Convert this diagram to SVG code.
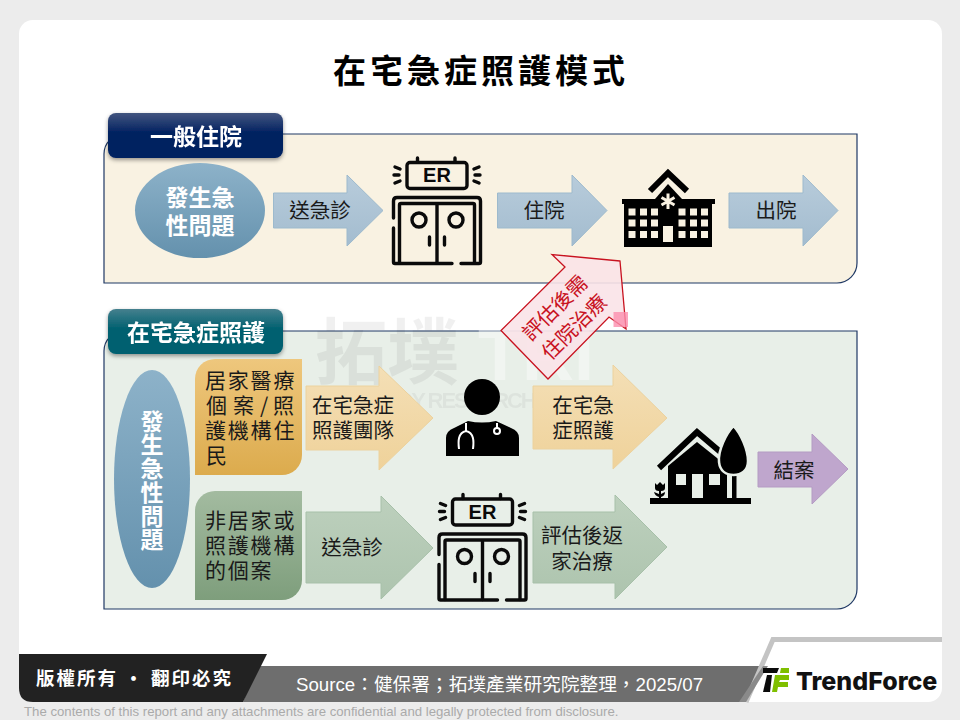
<svg xmlns="http://www.w3.org/2000/svg" width="960" height="720" viewBox="0 0 960 720">
<style>
text{font-family:"Noto Sans CJK TC","Liberation Sans",sans-serif}
.t{font-size:20.5px;fill:#1a1a1a;text-anchor:middle;dominant-baseline:central;transform:translateY(-1.5px)}
.c{font-size:21px;fill:#1a1a1a;letter-spacing:1.8px;dominant-baseline:central;transform:translateY(-1.5px)}
.w{fill:#fff;font-weight:700;text-anchor:middle;dominant-baseline:central;transform:translateY(-1.500px)}
.ic{fill:none;stroke:#0a0a0a;stroke-width:3.4;stroke-linecap:round;stroke-linejoin:round}
.panel{stroke:#1f3864;stroke-width:1.2}
.ab{fill:url(#gBlue);stroke:#9dbacd}
.ao{fill:url(#gOrange);stroke:#ecd29e}
.ag{fill:url(#gGreen);stroke:#a7c0a9}
</style>
<defs>
<linearGradient id="gBlue" x1="0" y1="0" x2="0" y2="1"><stop offset="0" stop-color="#b8ccdb"/><stop offset="1" stop-color="#a3bccf"/></linearGradient>
<linearGradient id="gOrange" x1="0" y1="0" x2="0" y2="1"><stop offset="0" stop-color="#f4dfb6"/><stop offset="1" stop-color="#efd29a"/></linearGradient>
<linearGradient id="gGreen" x1="0" y1="0" x2="0" y2="1"><stop offset="0" stop-color="#bdd0bd"/><stop offset="1" stop-color="#adc4ae"/></linearGradient>
<linearGradient id="gEll" x1="0" y1="0" x2="0" y2="1"><stop offset="0" stop-color="#8db2c9"/><stop offset="1" stop-color="#6491ad"/></linearGradient>
<linearGradient id="gCO" x1="0" y1="0" x2="0" y2="1"><stop offset="0" stop-color="#eec77d"/><stop offset="1" stop-color="#dcab4d"/></linearGradient>
<linearGradient id="gCG" x1="0" y1="0" x2="0" y2="1"><stop offset="0" stop-color="#a3bba0"/><stop offset="1" stop-color="#7e9e7c"/></linearGradient>
<linearGradient id="gT1" x1="0" y1="0" x2="0" y2="1"><stop offset="0" stop-color="#43557f"/><stop offset=".45" stop-color="#002060"/><stop offset="1" stop-color="#002060"/></linearGradient>
<linearGradient id="gT2" x1="0" y1="0" x2="0" y2="1"><stop offset="0" stop-color="#45808e"/><stop offset=".45" stop-color="#00606f"/><stop offset="1" stop-color="#00606f"/></linearGradient>
<filter id="sh" x="-10%" y="-20%" width="120%" height="150%"><feDropShadow dx="0" dy="2" stdDeviation="2" flood-color="#000" flood-opacity=".4"/></filter>
</defs>
<rect width="960" height="720" fill="#ececec"/>
<rect x="19" y="20" width="923" height="682" rx="14" fill="#fff"/>
<text x="481" y="69" text-anchor="middle" dominant-baseline="central" font-size="33" font-weight="700" letter-spacing="4" fill="#000" style="font-family:'Noto Sans CJK TC',sans-serif">在宅急症照護模式</text>

<g id="panel-general"><path class="panel" fill="#f9f2e2" d="M124 134H857V263A20 20 0 0 1 837 283H104V154A20 20 0 0 1 124 134Z"/></g>
<g id="panel-home"><path class="panel" fill="#e8efe8" d="M124 331H857V589A20 20 0 0 1 837 609H104V351A20 20 0 0 1 124 331Z"/></g>

<g id="watermark">
<text x="315" y="378" font-size="72" font-weight="700" fill="#000" opacity=".055" style="font-family:'Noto Sans CJK TC',sans-serif">拓墣</text>
<text x="478" y="380" font-size="72" font-weight="700" fill="#fff" opacity=".4" style="font-family:'Liberation Sans',sans-serif">TRI</text>
<text x="316" y="408" font-size="22" font-weight="700" fill="#000" opacity=".045" textLength="320" style="font-family:'Liberation Sans',sans-serif">TOPOLOGY RESEARCH INSTITUTE</text>
</g>

<g id="tab-general" filter="url(#sh)"><rect x="108" y="113" width="175" height="45" rx="8" fill="url(#gT1)"/><text class="w" x="196" y="136" font-size="23">一般住院</text></g>
<g id="tab-home" filter="url(#sh)"><rect x="108" y="309" width="175" height="45" rx="8" fill="url(#gT2)"/><text class="w" x="196" y="332" font-size="23">在宅急症照護</text></g>

<g id="node-problem-1"><ellipse cx="200" cy="210.500" rx="65" ry="47.500" fill="url(#gEll)"/><text class="w" x="200" y="197" font-size="23">發生急</text><text class="w" x="200" y="225" font-size="23">性問題</text></g>

<g id="node-er-1" transform="translate(392 157)">
<rect class="ic" x="15" y="5.500" width="60" height="26" rx="3"/>
<path class="ic" d="M25.500 1V5M63 1V5M3 10L8 12M2 18H7M3 26L8 24M87 10L82 12M88 18H83M87 26L82 24"/>
<text x="45" y="18" font-size="20" font-weight="700" text-anchor="middle" dominant-baseline="central" fill="#0a0a0a" style="font-family:'Liberation Sans',sans-serif">ER</text>
<path class="ic" d="M1.500 61V44Q1.500 40.500 5 40.500H85Q88.500 40.500 88.500 44V105Q88.500 106.500 87 106.500H69M60 106.500H3Q1.500 106.500 1.500 105V71"/>
<path class="ic" d="M7.500 106V48Q7.500 46.500 9 46.500H81Q82.500 46.500 82.500 48V106M45 46.500V106"/>
<circle class="ic" cx="27" cy="63" r="7"/><circle class="ic" cx="64" cy="63" r="7"/>
<path class="ic" d="M37.500 80V88M52.500 80V88"/>
</g>

<g id="node-hospital">
<path d="M650 191L668 173L687 191" fill="none" stroke="#000" stroke-width="6"/>
<path d="M655 199L668 184L682 199Z" fill="#000"/>
<rect x="622" y="199" width="93" height="5" fill="#000"/>
<rect x="624" y="204" width="88" height="43" fill="#000"/>
<g fill="#f9f2e2">
<rect x="628.500" y="208.500" width="7" height="7"/><rect x="640" y="208.500" width="7" height="7"/><rect x="651" y="208.500" width="7" height="7"/><rect x="678.500" y="208.500" width="7" height="7"/><rect x="690" y="208.500" width="7" height="7"/><rect x="701" y="208.500" width="7" height="7"/>
<rect x="628.500" y="219.500" width="7" height="7"/><rect x="640" y="219.500" width="7" height="7"/><rect x="651" y="219.500" width="7" height="7"/><rect x="678.500" y="219.500" width="7" height="7"/><rect x="690" y="219.500" width="7" height="7"/><rect x="701" y="219.500" width="7" height="7"/>
<rect x="628.500" y="231" width="7" height="7"/><rect x="640" y="231" width="7" height="7"/><rect x="651" y="231" width="7" height="7"/><rect x="678.500" y="231" width="7" height="7"/><rect x="690" y="231" width="7" height="7"/><rect x="701" y="231" width="7" height="7"/>
<rect x="663" y="226" width="10" height="16"/>
</g>
<path d="M668 193.500V209M661.500 197.500L674.500 205M674.500 197.500L661.500 205" stroke="#f9f2e2" stroke-width="3" fill="none"/>
</g>

<g id="node-problem-2"><ellipse cx="152" cy="479" rx="38" ry="109" fill="url(#gEll)"/>
<g font-size="23"><text class="w" x="152" y="421">發</text><text class="w" x="152" y="444.500">生</text><text class="w" x="152" y="468">急</text><text class="w" x="152" y="492">性</text><text class="w" x="152" y="516">問</text><text class="w" x="152" y="539.500">題</text></g></g>

<g id="node-residents"><path fill="url(#gCO)" d="M215 359H302V455A20 20 0 0 1 282 475H195V379A20 20 0 0 1 215 359Z"/>
<text class="c" x="205" y="380">居家醫療</text>
<text class="c" x="206 222 233 252 260 268 273" y="405" style="letter-spacing:0" xml:space="preserve">個 案 / 照</text>
<text class="c" x="205" y="430">護機構住</text>
<text class="c" x="206" y="455">民</text></g>

<g id="node-nonresidents"><path fill="url(#gCG)" d="M215 491H302V580A20 20 0 0 1 282 600H195V511A20 20 0 0 1 215 491Z"/>
<text class="c" x="205" y="520">非居家或</text>
<text class="c" x="205" y="545">照護機構</text>
<text class="c" x="205" y="570">的個案</text></g>

<g id="node-doctor">
<circle cx="482" cy="397" r="18" fill="#000"/>
<path fill="#000" d="M446 456V438Q446 431 454 428L468 421Q482 424 496 421L511 428Q519 431 519 438V456Z"/>
<path d="M466 423V431C458 433 458 441 459 449M466 431C474 433 474 441 473 449" fill="none" stroke="#fff" stroke-width="2"/>
<path d="M497 423V428" stroke="#fff" stroke-width="2"/><circle cx="497" cy="431" r="3" fill="none" stroke="#fff" stroke-width="2"/>
</g>

<g id="node-er-2" transform="translate(437.500 493.500)">
<rect class="ic" x="15" y="5.500" width="60" height="26" rx="3"/>
<path class="ic" d="M25.500 1V5M63 1V5M3 10L8 12M2 18H7M3 26L8 24M87 10L82 12M88 18H83M87 26L82 24"/>
<text x="45" y="18" font-size="20" font-weight="700" text-anchor="middle" dominant-baseline="central" fill="#0a0a0a" style="font-family:'Liberation Sans',sans-serif">ER</text>
<path class="ic" d="M1.500 61V44Q1.500 40.500 5 40.500H85Q88.500 40.500 88.500 44V105Q88.500 106.500 87 106.500H69M60 106.500H3Q1.500 106.500 1.500 105V71"/>
<path class="ic" d="M7.500 106V48Q7.500 46.500 9 46.500H81Q82.500 46.500 82.500 48V106M45 46.500V106"/>
<circle class="ic" cx="27" cy="63" r="7"/><circle class="ic" cx="64" cy="63" r="7"/>
<path class="ic" d="M37.500 80V88M52.500 80V88"/>
</g>

<g id="node-home">
<path d="M659 468L697 432L724 455" fill="none" stroke="#000" stroke-width="6"/>
<path d="M668 498V466L697 442L727 466V498Z" fill="#000"/>
<rect x="676" y="474" width="10" height="11" fill="#e8efe8"/><rect x="692" y="474" width="11" height="24" fill="#e8efe8"/><rect x="709" y="474" width="11" height="11" fill="#e8efe8"/>
<rect x="727" y="474" width="9" height="24" fill="#e8efe8"/>
<rect x="732" y="472" width="4.500" height="26" fill="#000"/>
<path d="M733.500 426C726 434 718 450 719 462C720 471 726 475 733.500 475C741 475 748 471 748 461C748 450 741 434 733.500 426Z" fill="#000" stroke="#e8efe8" stroke-width="2.500"/>
<rect x="650" y="498" width="101" height="6" fill="#000"/>
<path d="M655 483L657 485L660 482L663 485L665 483V488Q665 491 661 491V494L665 492Q665 496 661 497V498H659V497Q655 496 654 492L659 494V491Q655 491 655 488Z" fill="#000"/>
</g>

<g id="connectors">
<g id="a1"><path class="ab" d="M273.500 193H347V175L383 210.500L347 246V228H273.500Z"/><text class="t" x="320" y="210">送急診</text></g>
<g id="a2"><path class="ab" d="M497.500 193H572V175L607 210.500L572 246V228H497.500Z"/><text class="t" x="544" y="210">住院</text></g>
<g id="a3"><path class="ab" d="M729 193H803V175L838 210.500L803 246V228H729Z"/><text class="t" x="776" y="210">出院</text></g>
<g id="a4"><path class="ao" d="M306 386H379V366L433 418L379 470V450H306Z"/><text class="t" x="353" y="405">在宅急症</text><text class="t" x="353" y="430">照護團隊</text></g>
<g id="a5"><path class="ag" d="M306 512H381V496L433 548L381 599V583H306Z"/><text class="t" x="352" y="547">送急診</text></g>
<g id="a6"><path class="ao" d="M533 386H613V365L667 418L613 469V449H533Z"/><text class="t" x="583" y="405">在宅急</text><text class="t" x="583" y="430">症照護</text></g>
<g id="a7"><path class="ag" d="M533 512H615V495L667 547L615 599V583H533Z"/><text class="t" x="582" y="535">評估後返</text><text class="t" x="582" y="561">家治療</text></g>
<g id="a8"><path fill="#bfa6cd" stroke="#b49bc3" d="M758 452H812V434L848 469L812 504V487H758Z"/><text class="t" x="794" y="470">結案</text></g>
<g id="a9">
<path fill="#fae3e8" fill-opacity=".9" stroke="#c8121f" stroke-width="1.300" d="M620 261L552 254.500L565 267L501 330.500L548 379L609 317L626 329Z"/>
<rect x="613.500" y="312" width="14.500" height="15" fill="#fb8fae" fill-opacity=".8"/>
<g transform="translate(-1 -3) rotate(-45 565 320)"><text class="t" x="565" y="307" style="fill:#c8121f">評估後需</text><text class="t" x="565" y="334" style="fill:#c8121f">住院治療</text></g></g>
</g>

<g id="footer">
<path d="M257 666H763L745 702H243Z" fill="#6e6e6e"/>
<path d="M19 654H267L243 702H33Q19 702 19 688Z" fill="#222"/>
<path d="M746 702L773 639.500H942" fill="none" stroke="#c4c4c4" stroke-width="5"/>
<path d="M739 702L763 666H768L746 702Z" fill="#8a8a8a"/>
<text x="36" y="677" font-size="18.500" font-weight="700" fill="#fff" letter-spacing="2" dominant-baseline="central">版權所有 · 翻印必究</text>
<text x="296" y="684" font-size="18.700" fill="#fff" dominant-baseline="central" style="font-family:'Liberation Sans','Noto Sans CJK TC',sans-serif">Source：健保署；拓墣產業研究院整理，2025/07</text>
<text x="24" y="716" font-size="13.200" fill="#aaa" style="font-family:'Liberation Sans',sans-serif">The contents of this report and any attachments are confidential and legally protected from disclosure.</text>
</g>

<g id="logo">
<path d="M763 668H779L777 673H763Z" fill="#0a0a0a"/>
<path d="M767 675H772L770 692H763Z" fill="#0a0a0a"/>
<path d="M775 675H789V680H780L779 682H788V687H778L777 692H772Z" fill="#7fbf00"/>
<path d="M781 668H789V673H780Z" fill="#7fbf00"/>
<text x="796" y="681" font-size="25" font-weight="800" fill="#111" dominant-baseline="central" style="font-family:Inter,'Liberation Sans',sans-serif">TrendForce</text>
</g>
</svg>
